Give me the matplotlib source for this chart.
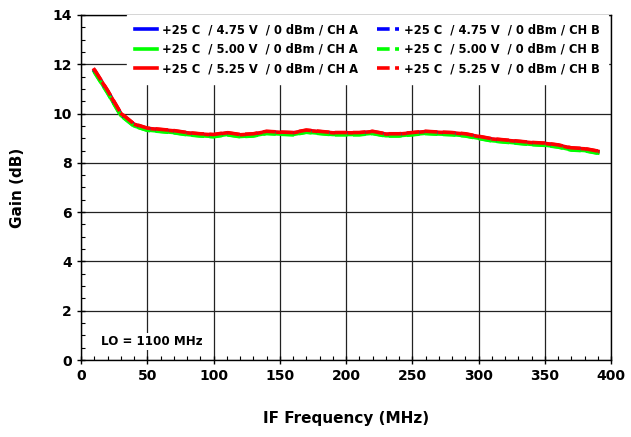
import numpy as np
import matplotlib
matplotlib.use('Agg')
import matplotlib.pyplot as plt
from matplotlib.ticker import MultipleLocator

# IF frequency (MHz)
freq = [10, 20, 30, 40, 50, 60, 70, 80, 90, 100, 110, 120, 130, 140, 150, 160, 170, 180, 190, 200,
        210, 220, 230, 240, 250, 260, 270, 280, 290, 300, 310, 320, 330, 340, 350, 360, 370, 380, 390]

# gain (dB) per supply / channel
gain_475_a = [11.75, 10.90, 9.98, 9.55, 9.38, 9.33, 9.28, 9.20, 9.15, 9.12, 9.20, 9.12, 9.15, 9.25, 9.22, 9.20, 9.30, 9.25, 9.20, 9.20,
              9.20, 9.25, 9.15, 9.15, 9.20, 9.25, 9.22, 9.20, 9.15, 9.05, 8.95, 8.90, 8.85, 8.80, 8.77, 8.70, 8.58, 8.55, 8.45]
gain_500_a = [11.70, 10.85, 9.93, 9.50, 9.33, 9.28, 9.23, 9.15, 9.10, 9.07, 9.15, 9.07, 9.10, 9.20, 9.17, 9.15, 9.25, 9.20, 9.15, 9.15,
              9.15, 9.20, 9.10, 9.10, 9.15, 9.20, 9.17, 9.15, 9.10, 9.00, 8.90, 8.85, 8.80, 8.75, 8.72, 8.65, 8.53, 8.50, 8.40]
gain_525_a = [11.78, 10.93, 10.01, 9.57, 9.40, 9.35, 9.30, 9.22, 9.17, 9.14, 9.22, 9.14, 9.17, 9.27, 9.24, 9.22, 9.32, 9.27, 9.22, 9.22,
              9.22, 9.27, 9.17, 9.17, 9.22, 9.27, 9.24, 9.22, 9.17, 9.07, 8.97, 8.92, 8.87, 8.82, 8.79, 8.72, 8.60, 8.57, 8.47]
gain_475_b = [11.74, 10.89, 9.97, 9.54, 9.37, 9.32, 9.27, 9.19, 9.14, 9.11, 9.19, 9.11, 9.14, 9.24, 9.21, 9.19, 9.29, 9.24, 9.19, 9.19,
              9.19, 9.24, 9.14, 9.14, 9.19, 9.24, 9.21, 9.19, 9.14, 9.04, 8.94, 8.89, 8.84, 8.79, 8.76, 8.69, 8.57, 8.54, 8.44]
gain_500_b = [11.69, 10.84, 9.92, 9.49, 9.32, 9.27, 9.22, 9.14, 9.09, 9.06, 9.14, 9.06, 9.09, 9.19, 9.16, 9.14, 9.24, 9.19, 9.14, 9.14,
              9.14, 9.19, 9.09, 9.09, 9.14, 9.19, 9.16, 9.14, 9.09, 8.99, 8.89, 8.84, 8.79, 8.74, 8.71, 8.64, 8.52, 8.49, 8.39]
gain_525_b = [11.79, 10.94, 10.02, 9.58, 9.41, 9.36, 9.31, 9.23, 9.18, 9.15, 9.23, 9.15, 9.18, 9.28, 9.25, 9.23, 9.33, 9.28, 9.23, 9.23,
              9.23, 9.28, 9.18, 9.18, 9.23, 9.28, 9.25, 9.23, 9.18, 9.08, 8.98, 8.93, 8.88, 8.83, 8.80, 8.73, 8.61, 8.58, 8.48]

labels = ['+25 C  / 4.75 V  / 0 dBm / CH A', '+25 C  / 5.00 V  / 0 dBm / CH A', '+25 C  / 5.25 V  / 0 dBm / CH A',
          '+25 C  / 4.75 V  / 0 dBm / CH B', '+25 C  / 5.00 V  / 0 dBm / CH B', '+25 C  / 5.25 V  / 0 dBm / CH B']

plt.rcParams['font.family'] = 'DejaVu Sans'
plt.rcParams['font.weight'] = 'bold'

fig = plt.figure(figsize=(6.31, 4.37), dpi=100)
ax = fig.add_axes([0.1284, 0.1762, 0.8400, 0.7895])

blue = '#0000ff'
green = '#00ff00'
red = '#ff0000'
lw = 2.6
dash = (0, (3.5, 1.5))
ax.plot(freq, gain_475_a, color=blue, lw=lw, label=labels[0])
ax.plot(freq, gain_500_a, color=green, lw=lw, label=labels[1])
ax.plot(freq, gain_525_a, color=red, lw=lw, label=labels[2])
ax.plot(freq, gain_475_b, color=blue, lw=lw, ls=dash, label=labels[3])
ax.plot(freq, gain_500_b, color=green, lw=lw, ls=dash, label=labels[4])
ax.plot(freq, gain_525_b, color=red, lw=lw, ls=dash, label=labels[5])

ax.set_xlim(0, 400)
ax.set_ylim(0, 14)
ax.xaxis.set_major_locator(MultipleLocator(50))
ax.xaxis.set_minor_locator(MultipleLocator(10))
ax.yaxis.set_major_locator(MultipleLocator(2))
ax.yaxis.set_minor_locator(MultipleLocator(0.5))
ax.tick_params(which='major', direction='inout', length=6, width=1, labelsize=10)
ax.tick_params(which='minor', direction='in', length=3, width=0.8)
ax.grid(which='major', color='#222222', lw=0.9)
ax.set_axisbelow(True)
for s in ax.spines.values():
    s.set_color('black')
    s.set_linewidth(1)

ax.set_xlabel('IF Frequency (MHz)', fontsize=11, fontweight='bold', labelpad=20)
ax.set_ylabel('Gain (dB)', fontsize=11, fontweight='bold', labelpad=20)

leg = ax.legend(ncol=2, loc='upper right', bbox_to_anchor=(1 - 3 / 530, 1), fontsize=8.3,
                frameon=True, fancybox=False, edgecolor='white', facecolor='white', framealpha=1,
                handlelength=1.9, handletextpad=0.4, columnspacing=1.7,
                labelspacing=0.55, borderaxespad=0, borderpad=0.74)
for t in leg.get_texts():
    t.set_fontweight('bold')

ax.text(15, 0.75, 'LO = 1100 MHz', fontsize=8.6, fontweight='bold', va='center', ha='left',
        bbox=dict(facecolor='white', edgecolor='none', pad=1.5))

fig.savefig('out.png', dpi=100)
